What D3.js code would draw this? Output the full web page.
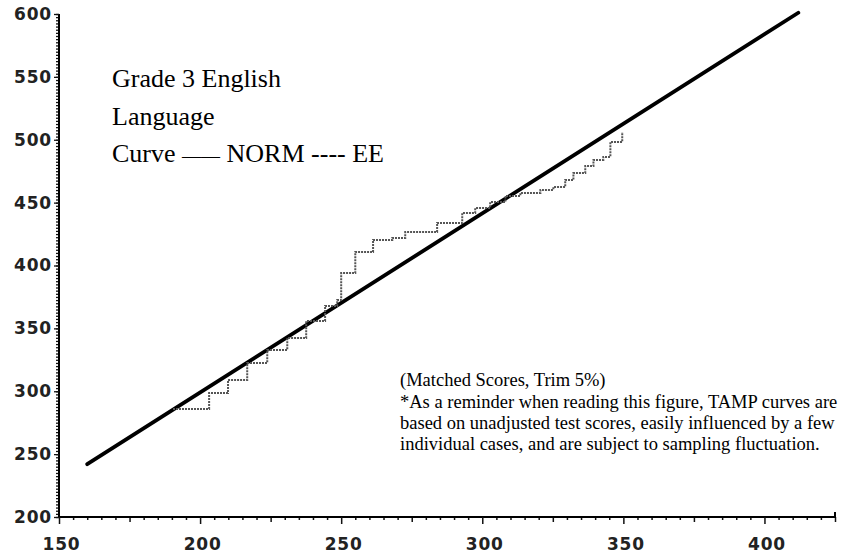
<!DOCTYPE html>
<html>
<head>
<meta charset="utf-8">
<script src="https://cdn.jsdelivr.net/npm/d3@7"></script>
<style>
  html, body { margin: 0; padding: 0; background: #fff; }
  svg { display: block; }
  .tick text { font-family: "DejaVu Sans", sans-serif; font-weight: bold; font-size: 17px; fill: #222; letter-spacing: 0.8px; }
  .note { font-family: "Liberation Serif", "Times New Roman", serif; fill: #000; }
</style>
</head>
<body>
<script>
// Axis ticks
const xTicks = [150, 200, 250, 300, 350, 400];
const yTicks = [200, 250, 300, 350, 400, 450, 500, 550, 600];

// NORM curve (straight reference line)
const normX = [160, 412];
const normY = [242, 601];

// EE curve (step function, each value holds until the next score)
const eeX = [190.4, 203.2, 209.9, 216.7, 223.8, 230.9, 237.6, 244.3, 248.6, 250.0,
             255.0, 261.3, 268.1, 272.7, 284.0, 292.9, 297.5, 302.8, 308.2, 313.5,
             320.6, 325.2, 329.4, 332.3, 336.5, 339.4, 342.9, 345.4, 349.6];
const eeY = [285.9, 298.6, 308.9, 322.5, 332.8, 342.3, 355.9, 367.8, 372.6, 394.0,
             410.7, 420.3, 421.9, 426.6, 433.8, 441.8, 445.7, 450.5, 455.3, 457.7,
             460.1, 462.4, 468.0, 473.6, 479.1, 483.9, 486.3, 498.2, 506.2];

// Title block; each line is a list of [text, size] pieces
const titleLines = [
  [["Grade 3 English", 26]],
  [["Language", 26]],
  [["Curve ", 26], ["\u2014\u2014", 19], [" NORM ---- EE", 26]]
];
const noteLines = [
  "(Matched Scores, Trim 5%)",
  "*As a reminder when reading this figure, TAMP curves are",
  "based on unadjusted test scores, easily influenced by a few",
  "individual cases, and are subject to sampling fluctuation."
];

const W = 843, H = 558;
const svg = d3.select("body").append("svg").attr("width", W).attr("height", H);

const x = d3.scaleLinear().domain([150, 425]).range([59, 835]);
const y = d3.scaleLinear().domain([200, 600]).range([517, 14]);

// X axis: minor ticks every 5, medium every 25, major every 50
const xg = svg.append("g").attr("transform", `translate(0,${y(200)})`);
xg.append("g")
  .call(d3.axisBottom(x).tickValues(d3.range(155, 426, 5).filter(v => v % 25 !== 0)).tickSize(3).tickFormat(""))
  .call(g => g.select(".domain").remove());
xg.append("g")
  .call(d3.axisBottom(x).tickValues(d3.range(175, 426, 50)).tickSize(5).tickFormat(""))
  .call(g => g.select(".domain").remove());
xg.append("g")
  .call(d3.axisBottom(x).tickValues(xTicks).tickSize(7).tickPadding(14).tickFormat(d3.format("d")))
  .call(g => g.select(".domain").attr("stroke-width", 2).attr("d", `M${x(150)},0H${x(425)}V-5`))
  .call(g => g.selectAll(".tick text").attr("dx", 2));
xg.selectAll("line").attr("stroke", "#111").attr("stroke-width", 1.5);

// Y axis: minor ticks every 2.5, major every 50
const yg = svg.append("g").attr("transform", `translate(${x(150)},0)`);
yg.append("g")
  .call(d3.axisLeft(y).tickValues(d3.range(200, 600.1, 2.5)).tickSize(3).tickFormat(""))
  .call(g => g.select(".domain").remove());
yg.append("g")
  .call(d3.axisLeft(y).tickValues(yTicks).tickSize(5).tickPadding(2).tickFormat(d3.format("d")))
  .call(g => g.select(".domain").attr("stroke-width", 2).attr("d", `M0,${y(600)}V${y(200)}`));
yg.selectAll("line").attr("stroke", "#111").attr("stroke-width", 1.3);

// NORM line
const norm = normX.map((v, i) => [v, normY[i]]);
svg.append("path")
  .datum(norm)
  .attr("d", d3.line().x(d => x(d[0])).y(d => y(d[1])))
  .attr("fill", "none")
  .attr("stroke", "#000")
  .attr("stroke-width", 3.8)
  .attr("stroke-linecap", "round");

// EE step curve
const ee = eeX.map((v, i) => [v, eeY[i]]);
svg.append("path")
  .datum(ee)
  .attr("d", d3.line().curve(d3.curveStepAfter).x(d => x(d[0])).y(d => y(d[1])))
  .attr("fill", "none")
  .attr("stroke", "#555")
  .attr("stroke-width", 2)
  .attr("stroke-dasharray", "2,1");

// Title block
svg.append("g").selectAll("text")
  .data(titleLines).join("text")
  .attr("class", "note")
  .attr("x", 112)
  .attr("y", (d, i) => 87 + i * 37.5)
  .selectAll("tspan")
  .data(d => d).join("tspan")
  .attr("font-size", d => d[1])
  .text(d => d[0]);

// Footnote block
svg.append("g").selectAll("text")
  .data(noteLines).join("text")
  .attr("class", "note")
  .attr("x", 400)
  .attr("y", (d, i) => [386, 408, 429, 450][i])
  .attr("font-size", 18.5)
  .text(d => d);
</script>
</body>
</html>
